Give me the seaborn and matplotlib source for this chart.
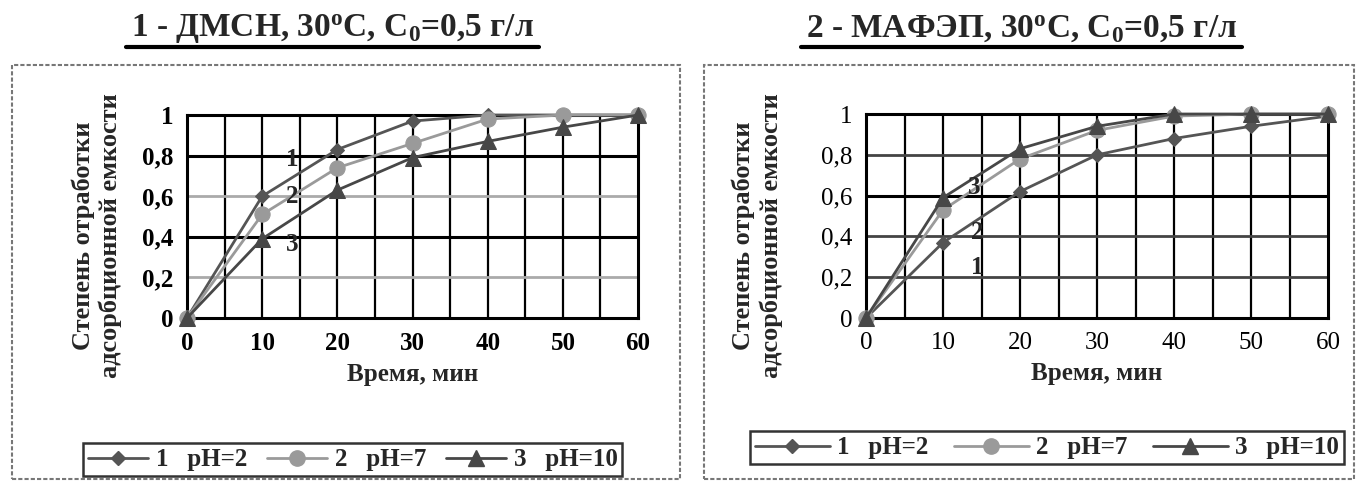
import numpy as np
import pandas as pd
import matplotlib
matplotlib.use("Agg")
import matplotlib.pyplot as plt
import seaborn as sns
from matplotlib.patches import Rectangle
from matplotlib.lines import Line2D

time_min = [0, 10, 20, 30, 40, 50, 60]
series_names = ["1   pH=2", "2   pH=7", "3   pH=10"]

# Panel 1 - ДМСН
dmsn_ph2 = [0, 0.60, 0.83, 0.97, 1.00, 1.00, 1.00]
dmsn_ph7 = [0, 0.51, 0.74, 0.86, 0.98, 1.00, 1.00]
dmsn_ph10 = [0, 0.39, 0.63, 0.79, 0.87, 0.94, 1.00]

# Panel 2 - МАФЭП
mafep_ph2 = [0, 0.37, 0.62, 0.80, 0.88, 0.94, 0.99]
mafep_ph7 = [0, 0.53, 0.78, 0.92, 0.99, 1.00, 1.00]
mafep_ph10 = [0, 0.59, 0.83, 0.94, 1.00, 1.00, 1.00]

y_ticks = [0, 0.2, 0.4, 0.6, 0.8, 1.0]
y_tick_labels = ["0", "0,2", "0,4", "0,6", "0,8", "1"]
x_ticks = [0, 10, 20, 30, 40, 50, 60]

titles = ["1 - ДМСН, 30$^{\\mathrm{o}}$С, С$_{\\mathrm{0}}$=0,5 г/л",
          "2 - МАФЭП, 30$^{\\mathrm{o}}$С, С$_{\\mathrm{0}}$=0,5 г/л"]
xlabel = "Время, мин"
ylabel = "Степень отработки\nадсорбционной емкости"

curve_labels = [
    [("1", 14, 0.78), ("2", 14, 0.60), ("3", 14, 0.36)],
    [("3", 14, 0.64), ("2", 14.5, 0.42), ("1", 14.5, 0.25)],
]

sns.set_theme(style="white")
plt.rcParams["font.family"] = ["Liberation Serif", "DejaVu Serif"]
plt.rcParams["mathtext.fontset"] = "custom"
plt.rcParams["mathtext.rm"] = "Liberation Serif:bold"
plt.rcParams["mathtext.it"] = "Liberation Serif:bold"

palette = {series_names[0]: "#555555", series_names[1]: "#9a9a9a", series_names[2]: "#474747"}
markers = {series_names[0]: "D", series_names[1]: "o", series_names[2]: "^"}
msizes = {series_names[0]: 7, series_names[1]: 11, series_names[2]: 11}

def make_df(a, b, c):
    rows = []
    for name, vals in zip(series_names, [a, b, c]):
        for t, v in zip(time_min, vals):
            rows.append({"t": t, "v": v, "s": name})
    return pd.DataFrame(rows)

dfs = [make_df(dmsn_ph2, dmsn_ph7, dmsn_ph10), make_df(mafep_ph2, mafep_ph7, mafep_ph10)]

fig = plt.figure(figsize=(13.57, 4.83), dpi=100)

ax_pos = [[0.1378, 0.3416, 0.3324, 0.4203], [0.6382, 0.3416, 0.3405, 0.4223]]
frame_pos = [[0.009, 0.008, 0.492, 0.857], [0.519, 0.008, 0.479, 0.857]]
title_x = [0.245, 0.753]
ylabel_x = [[0.061, 0.081], [0.548, 0.568]]
legend_box = [[0.055, 0.012, 0.41, 0.072], [0.553, 0.03, 0.437, 0.085]]
legend_handlelen = [2.4, 3.0]
legend_colspace = [0.8, 1.0]
heavy_lines = [[0.4, 0.8], [0.6]]
underline_w = [0.305, 0.325]

for i in range(2):
    fr = frame_pos[i]
    fig.patches.append(Rectangle((fr[0], fr[1]), fr[2], fr[3], transform=fig.transFigure,
                                 fill=False, edgecolor="#777777", linestyle=(0, (2, 1)), lw=1.5))
    ax = fig.add_axes(ax_pos[i])
    ax.set_xlim(0, 60)
    ax.set_ylim(0, 1)
    for gx in range(5, 60, 5):
        ax.axvline(gx, color="black", lw=1.6, zorder=0)
    for gy in [0.2, 0.4, 0.6, 0.8]:
        if gy in heavy_lines[i]:
            ax.axhline(gy, color="black", lw=2.2, zorder=0)
        else:
            ax.axhline(gy, color="#aaaaaa" if i == 0 else "#444444", lw=2.0, zorder=0)
    df = dfs[i]
    for name in series_names:
        sub = df[df["s"] == name]
        sns.lineplot(data=sub, x="t", y="v", ax=ax, color=palette[name], marker=markers[name],
                     markersize=msizes[name], markeredgecolor=palette[name], lw=2.0,
                     legend=False, clip_on=False, zorder=3)
    for sp in ax.spines.values():
        sp.set_color("black")
        sp.set_linewidth(2.2)
        sp.set_visible(True)
    ax.set_xticks(x_ticks)
    ax.set_yticks(y_ticks)
    ax.set_yticklabels(y_tick_labels)
    ax.tick_params(axis="both", labelsize=18, length=0, pad=10, colors="black")
    for lab in ax.get_xticklabels() + ax.get_yticklabels():
        lab.set_fontweight("bold" if i == 0 else "normal")
    ax.set_xlabel(xlabel, fontsize=18, fontweight="bold", labelpad=6)
    ax.set_ylabel("")
    for txt, lx, ly in curve_labels[i]:
        ax.text(lx, ly, txt, fontsize=18, fontweight="bold", ha="center", va="center", zorder=5)
    lines = ylabel.split("\n")
    cy = ax_pos[i][1] + ax_pos[i][3] / 2 - 0.04
    fig.text(ylabel_x[i][0], cy, lines[0], rotation=90, fontsize=19, fontweight="bold",
             ha="center", va="center")
    fig.text(ylabel_x[i][1], cy, lines[1], rotation=90, fontsize=19, fontweight="bold",
             ha="center", va="center")
    fig.text(title_x[i], 0.94, titles[i], fontsize=24, fontweight="bold", ha="center",
             va="center")
    fig.add_artist(Line2D([title_x[i] - underline_w[i] / 2, title_x[i] + underline_w[i] / 2],
                          [0.903, 0.903], transform=fig.transFigure, color="black", lw=3))
    handles = [Line2D([0], [0], color=palette[n], marker=markers[n], markersize=msizes[n],
                      markeredgecolor=palette[n], lw=2.0) for n in series_names]
    lb = legend_box[i]
    leg = fig.legend(handles, series_names, loc="center", ncol=3,
                     bbox_to_anchor=(lb[0], lb[1], lb[2], lb[3]), bbox_transform=fig.transFigure,
                     frameon=True, fancybox=False, edgecolor="black", fontsize=18,
                     handlelength=legend_handlelen[i], columnspacing=legend_colspace[i],
                     handletextpad=0.3, borderpad=0.2)
    leg.get_frame().set_linewidth(1.8)
    for t in leg.get_texts():
        t.set_fontweight("bold")

fig.savefig("out.png", dpi=100)
